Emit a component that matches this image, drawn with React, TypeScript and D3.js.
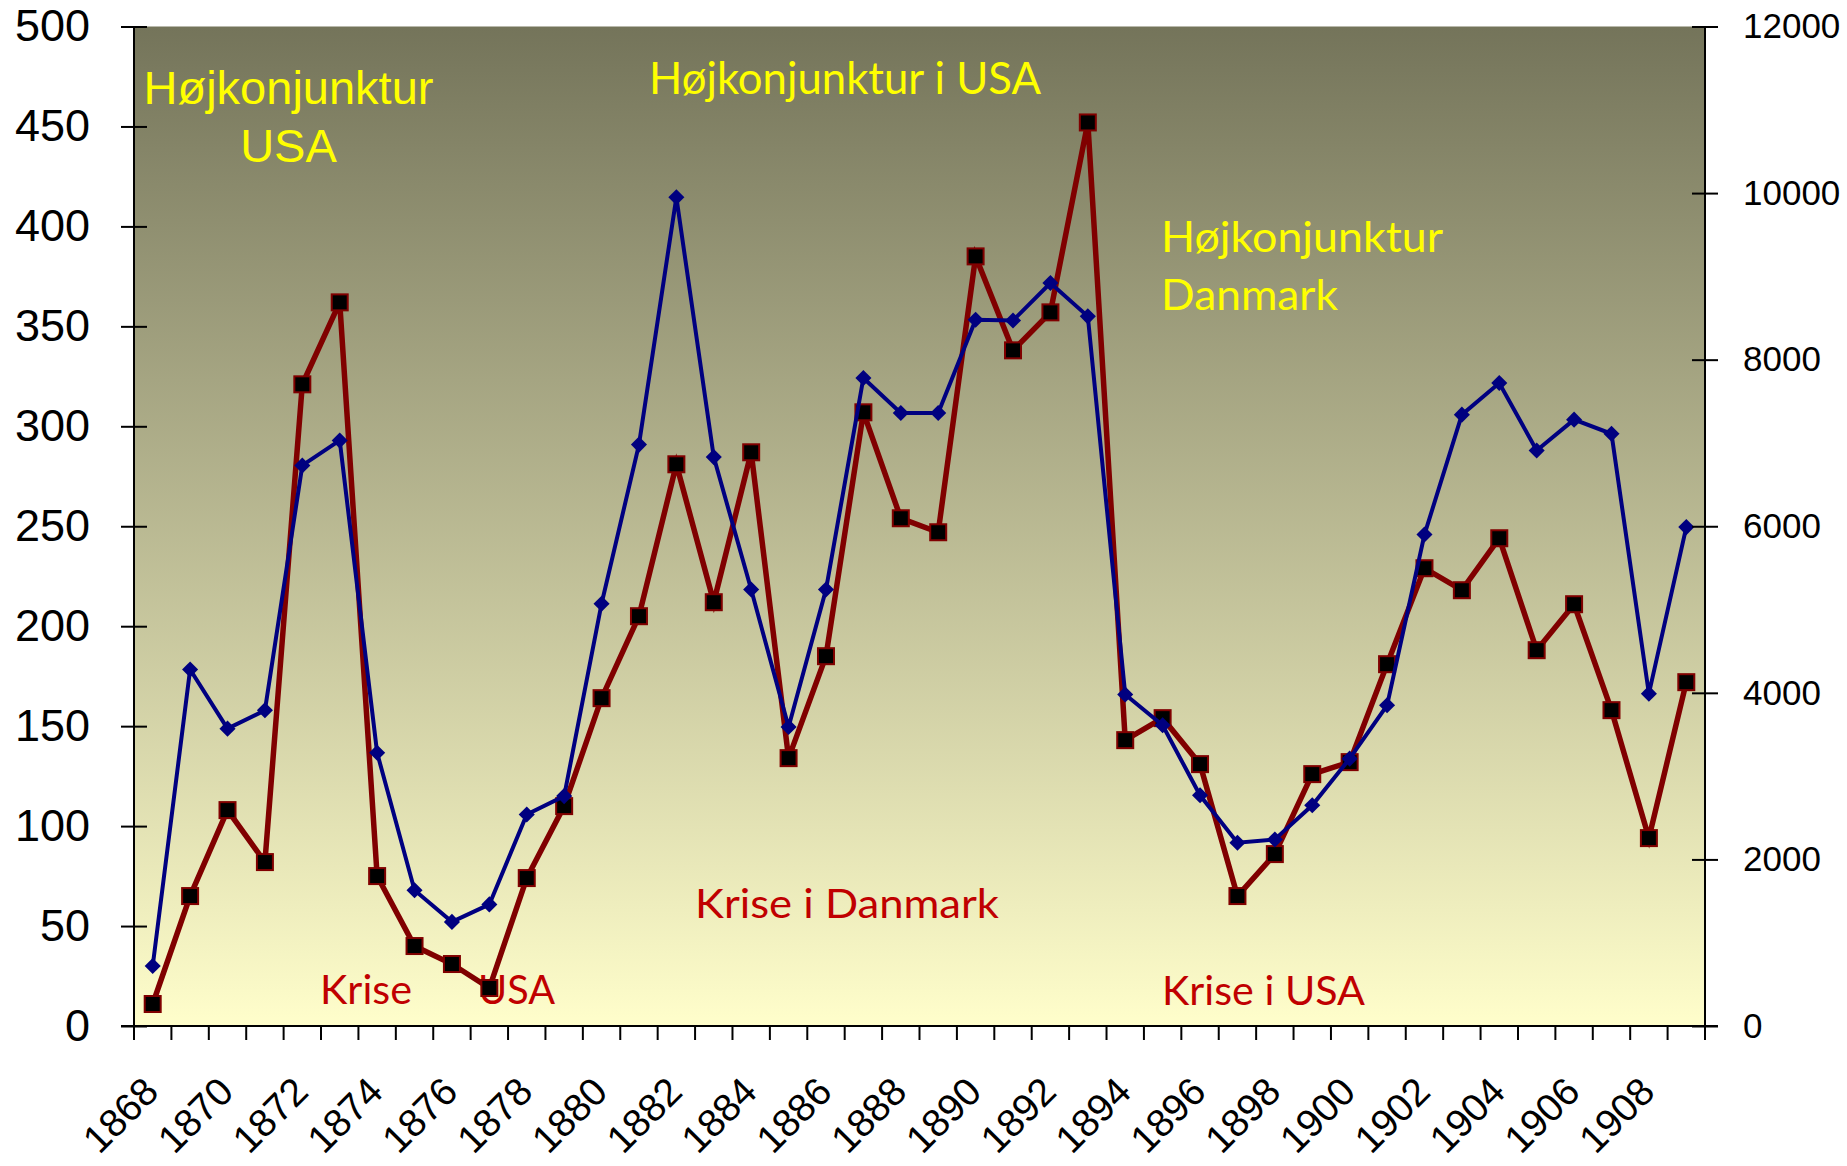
import React, { useRef, useEffect } from 'react';
import * as d3 from 'd3';

// years 1868-1909
const years = d3.range(1868, 1910);

// red series, left axis (squares)
const redValues = [
  11, 65, 108, 82, 321, 362, 75, 40, 31, 19,
  74, 110, 164, 205, 281, 212, 287, 134, 185, 307,
  254, 247, 385, 338, 357, 452, 143, 154, 131, 65,
  86, 126, 132, 181, 229, 218, 244, 188, 211, 158,
  94, 172,
];

// blue series, right axis (diamonds)
const blueValues = [
  720, 4280, 3570, 3790, 6730, 7030, 3280, 1630, 1250, 1460,
  2540, 2760, 5070, 6980, 9950, 6830, 5240, 3590, 5240, 7780,
  7360, 7360, 8480, 8470, 8920, 8520, 3980, 3610, 2770, 2200,
  2240, 2650, 3210, 3850, 5900, 7340, 7720, 6910, 7280, 7110,
  3990, 5990,
];

const leftTicks = d3.range(0, 501, 50);
const rightTicks = d3.range(0, 12001, 2000);

// annotations: text, colour, x, baseline, width
const notes = [
  { text: 'Højkonjunktur i USA', color: '#ffff00', x: 649, y: 94, w: 392, size: 44 },
  { text: 'Højkonjunktur', color: '#ffff00', x: 1161, y: 252, w: 282, size: 43 },
  { text: 'Danmark', color: '#ffff00', x: 1161, y: 310, w: 177, size: 43 },
  { text: 'Krise i Danmark', color: '#c00000', x: 695, y: 918, w: 304, size: 41 },
  { text: 'Krise', color: '#c00000', x: 320, y: 1004, w: 92, size: 41 },
  { text: 'USA', color: '#c00000', x: 478, y: 1004, w: 77, size: 41 },
  { text: 'Krise i USA', color: '#c00000', x: 1162, y: 1005, w: 203, size: 41 },
];

const W = 1847;
const H = 1166;

const App = () => {
  const svgRef = useRef(null);

  useEffect(() => {
    const svg = d3.select(svgRef.current);
    svg.selectAll('*').remove();

    const left = 134;
    const right = 1705;
    const top = 26.5;
    const bottom = 1026;

    const x = d3.scaleBand().domain(years).range([left, right]);
    const yL = d3.scaleLinear().domain([0, 500]).range([bottom, top]);
    const yR = d3.scaleLinear().domain([0, 12000]).range([bottom, top]);
    const cx = d => x(d) + x.bandwidth() / 2;

    // background gradient of the plot area
    const grad = svg.append('defs').append('linearGradient')
      .attr('id', 'bg').attr('x1', 0).attr('y1', 0).attr('x2', 0).attr('y2', 1);
    grad.append('stop').attr('offset', '0%').attr('stop-color', '#74745a');
    grad.append('stop').attr('offset', '100%').attr('stop-color', '#fffecb');

    svg.append('rect')
      .attr('x', left).attr('y', top)
      .attr('width', right - left).attr('height', bottom - top)
      .attr('fill', 'url(#bg)');

    // annotations sit behind the lines
    svg.append('text')
      .attr('x', 288.5).attr('y', 104)
      .attr('text-anchor', 'middle')
      .style('font-family', '"Liberation Sans", Arial, sans-serif')
      .style('font-size', '47px')
      .attr('fill', '#ffff00')
      .selectAll('tspan')
      .data(['Højkonjunktur', 'USA'])
      .join('tspan')
      .attr('x', 288.5)
      .attr('dy', (d, i) => (i === 0 ? 0 : 58))
      .text(d => d);

    svg.selectAll('text.note')
      .data(notes)
      .join('text')
      .attr('class', 'note')
      .attr('x', d => d.x).attr('y', d => d.y)
      .attr('textLength', d => d.w)
      .attr('lengthAdjust', 'spacingAndGlyphs')
      .style('font-family', 'Lato, "Open Sans", sans-serif')
      .style('font-size', d => d.size + 'px')
      .attr('fill', d => d.color)
      .text(d => d.text);

    // red line + square markers
    const redLine = d3.line().x((d, i) => cx(years[i])).y(d => yL(d));
    svg.append('path')
      .datum(redValues)
      .attr('d', redLine)
      .attr('fill', 'none')
      .attr('stroke', '#800000')
      .attr('stroke-width', 5.5)
      .attr('stroke-linejoin', 'miter');

    const sq = 16;
    svg.selectAll('rect.sq')
      .data(redValues)
      .join('rect')
      .attr('class', 'sq')
      .attr('x', (d, i) => cx(years[i]) - sq / 2)
      .attr('y', d => yL(d) - sq / 2)
      .attr('width', sq).attr('height', sq)
      .attr('fill', '#000')
      .attr('stroke', '#800000')
      .attr('stroke-width', 2);

    // blue line + diamond markers
    const blueLine = d3.line().x((d, i) => cx(years[i])).y(d => yR(d));
    svg.append('path')
      .datum(blueValues)
      .attr('d', blueLine)
      .attr('fill', 'none')
      .attr('stroke', '#000080')
      .attr('stroke-width', 4);

    const diamond = d3.symbol().type(d3.symbolDiamond2).size(165);
    svg.selectAll('path.dia')
      .data(blueValues)
      .join('path')
      .attr('class', 'dia')
      .attr('transform', (d, i) => `translate(${cx(years[i])},${yR(d)})`)
      .attr('d', diamond)
      .attr('fill', '#000080');

    // axes
    const axisFont = '"Liberation Sans", Arial, sans-serif';

    const gL = svg.append('g')
      .attr('transform', `translate(${left},0)`)
      .call(d3.axisLeft(yL).tickValues(leftTicks).tickSize(13).tickPadding(31));
    gL.selectAll('.tick line').attr('x2', -13).attr('x1', 13).attr('stroke', '#000').attr('stroke-width', 2);
    gL.select('.domain').attr('stroke', '#000').attr('stroke-width', 2).attr('d', `M0,${top}V${bottom}`);
    gL.selectAll('text').style('font-family', axisFont).style('font-size', '45px').attr('fill', '#000');

    const gR = svg.append('g')
      .attr('transform', `translate(${right},0)`)
      .call(d3.axisRight(yR).tickValues(rightTicks).tickFormat(d3.format('d')).tickSize(13).tickPadding(25));
    gR.selectAll('.tick line').attr('x1', -13).attr('x2', 13).attr('stroke', '#000').attr('stroke-width', 2);
    gR.select('.domain').attr('stroke', '#000').attr('stroke-width', 2).attr('d', `M0,${top}V${bottom}`);
    gR.selectAll('text').style('font-family', axisFont).style('font-size', '35px').attr('fill', '#000');

    // category axis: ticks between categories
    const gB = svg.append('g');
    gB.append('line')
      .attr('x1', left - 13).attr('x2', right + 13)
      .attr('y1', bottom).attr('y2', bottom)
      .attr('stroke', '#000').attr('stroke-width', 2);
    gB.selectAll('line.tk')
      .data(d3.range(years.length + 1))
      .join('line')
      .attr('class', 'tk')
      .attr('x1', i => left + i * x.step()).attr('x2', i => left + i * x.step())
      .attr('y1', bottom).attr('y2', bottom + 14)
      .attr('stroke', '#000').attr('stroke-width', 2);

    gB.selectAll('text')
      .data(years.filter((d, i) => i % 2 === 0))
      .join('text')
      .attr('transform', d => `translate(${cx(d) + 8},1094) rotate(-45)`)
      .attr('text-anchor', 'end')
      .style('font-family', axisFont)
      .style('font-size', '39px')
      .attr('fill', '#000')
      .text(d => d);
  }, []);

  return (
    <svg
      ref={svgRef}
      width={W}
      height={H}
      style={{ position: 'absolute', left: 0, top: 0, background: '#fff' }}
    />
  );
};

export default App;
